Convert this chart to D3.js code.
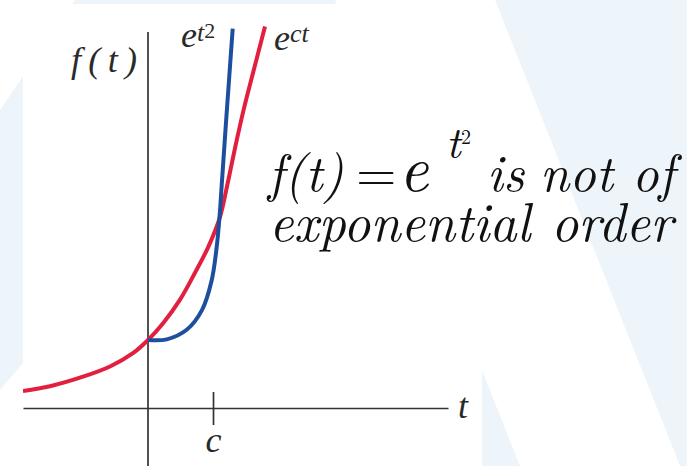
<!DOCTYPE html>
<html>
<head>
<meta charset="utf-8">
<script src="https://cdn.jsdelivr.net/npm/d3@7"></script>
<style>
  html, body { margin: 0; padding: 0; background: #fff; }
  svg { display: block; }
</style>
</head>
<body>
<div id="chart"></div>
<script>
// values (t, f(t)); c = 1 where the two curves meet
const blueT = [0, 0.29, 0.595, 0.83, 0.98, 1.057, 1.105, 1.134, 1.208, 1.303];
const blueF = [1.0, 1.01, 1.15, 1.44, 1.88, 2.37, 2.87, 3.28, 4.31, 5.58];
const redT = [-1.923, -1.508, -1.0, -0.585, -0.226, 0, 0.235, 0.49, 0.723, 0.928, 1.108, 1.22, 1.338, 1.477, 1.646, 1.8];
const redF = [0.25, 0.32, 0.46, 0.61, 0.81, 1.0, 1.25, 1.59, 1.99, 2.37, 2.81, 3.28, 3.82, 4.41, 5.04, 5.61];
const tickValues = [1];
const tickLabels = ["c"];
const tRange = [-1.923, 4.615];
const fRange = [-0.853, 5.53];

const width = 687, height = 466;
const fig = { left: 23, right: 482, top: 4, bottom: 466 };
const times = "Liberation Serif";
const latex = "Latin Modern Roman";

const svg = d3.select("#chart").append("svg")
    .attr("width", width)
    .attr("height", height);

// faint background shapes
const bg = "#eef5fa";
svg.append("path")
    .attr("fill", bg)
    .attr("d", "M0,110 L75,0 L335,0 L520,466 L300,466 L60,320 L0,390 Z");
svg.append("path")
    .attr("fill", bg)
    .attr("d", "M495,0 L687,0 L687,466 L680,466 Z");

// white figure panel
svg.append("rect")
    .attr("x", fig.left).attr("y", fig.top)
    .attr("width", fig.right - fig.left)
    .attr("height", fig.bottom - fig.top)
    .attr("fill", "#fff");

svg.append("clipPath").attr("id", "figclip")
  .append("rect")
    .attr("x", fig.left).attr("y", fig.top)
    .attr("width", fig.right - fig.left)
    .attr("height", fig.bottom - fig.top);

// scales
const xScale = d3.scaleLinear().domain(tRange).range([23, 448]);
const yScale = d3.scaleLinear().domain(fRange).range([466, 32]);

const g = svg.append("g").attr("clip-path", "url(#figclip)");

// x axis with the c tick crossing it
const xAxis = g.append("g")
    .attr("transform", "translate(0," + yScale(0) + ")")
    .call(d3.axisBottom(xScale)
        .tickValues(tickValues)
        .tickSizeOuter(0)
        .tickSizeInner(17)
        .tickFormat((d, i) => tickLabels[i]));
xAxis.attr("font-family", times);
xAxis.select(".domain").attr("stroke", "#333").attr("stroke-width", 1.7);
xAxis.selectAll(".tick line")
    .attr("y1", -16)
    .attr("stroke", "#333")
    .attr("stroke-width", 1.7);
xAxis.selectAll(".tick text")
    .attr("y", 44)
    .attr("dy", 0)
    .attr("fill", "#2a2a2a")
    .attr("font-family", times)
    .attr("font-style", "italic")
    .attr("font-size", 36);

// y axis
g.append("line")
    .attr("x1", xScale(0)).attr("x2", xScale(0))
    .attr("y1", yScale(fRange[1])).attr("y2", yScale(fRange[0]))
    .attr("stroke", "#333")
    .attr("stroke-width", 1.7);

const line = d3.line()
    .x(d => xScale(d[0]))
    .y(d => yScale(d[1]))
    .curve(d3.curveCatmullRom.alpha(0.5));

g.append("path")
    .attr("fill", "none")
    .attr("stroke", "#e21f3e")
    .attr("stroke-width", 4)
    .attr("d", line(redT.map((t, i) => [t, redF[i]])));

g.append("path")
    .attr("fill", "none")
    .attr("stroke", "#1d4f9e")
    .attr("stroke-width", 4)
    .attr("d", line(blueT.map((t, i) => [t, blueF[i]])));

// small labels of the figure
function label(parent, x, y, parts) {
    const t = parent.append("text")
        .attr("x", x).attr("y", y)
        .attr("fill", "#2a2a2a")
        .attr("font-family", times);
    parts.forEach(p => {
        t.append("tspan")
            .attr("dy", p.dy || 0)
            .attr("font-size", p.size || 36)
            .attr("font-style", p.up ? "normal" : "italic")
            .text(p.s);
    });
    return t;
}

label(svg, 71, 72, [{ s: "f(t)" }])
    .attr("textLength", 66).attr("lengthAdjust", "spacing");
label(svg, 181, 47, [{ s: "e" }, { s: "t", size: 26, dy: -6 }, { s: "2", size: 22, up: 1, dy: -3 }]);
label(svg, 274, 50, [{ s: "e" }, { s: "ct", size: 26, dy: -8 }]);
label(svg, 458, 418, [{ s: "t" }]);

// big caption: one text per line, pieces placed along it
function caption(y, size, parts) {
    const t = svg.append("text")
        .attr("y", y)
        .attr("fill", "#111")
        .attr("font-family", latex)
        .attr("font-size", size);
    parts.forEach(p => {
        const s = t.append("tspan")
            .attr("font-style", p.up ? "normal" : "italic")
            .text(p.s);
        if (p.x != null) s.attr("x", p.x);
        if (p.y != null) s.attr("y", p.y);
        if (p.size) s.attr("font-size", p.size);
    });
    return t;
}

caption(191, 52, [
    { s: "f(t)", x: 268 },
    { s: "=", up: 1, x: 356 },
    { s: "e", x: 399, size: 64 },
    { s: "t", x: 446, y: 158, size: 44 },
    { s: "2", up: 1, x: 461, y: 144, size: 20 },
    { s: "is", x: 487, y: 191 },
    { s: "not", x: 540 },
    { s: "of", x: 632 }
]);
caption(241, 53.5, [
    { s: "exponential", x: 269 },
    { s: "order", x: 551 }
]);
</script>
</body>
</html>
